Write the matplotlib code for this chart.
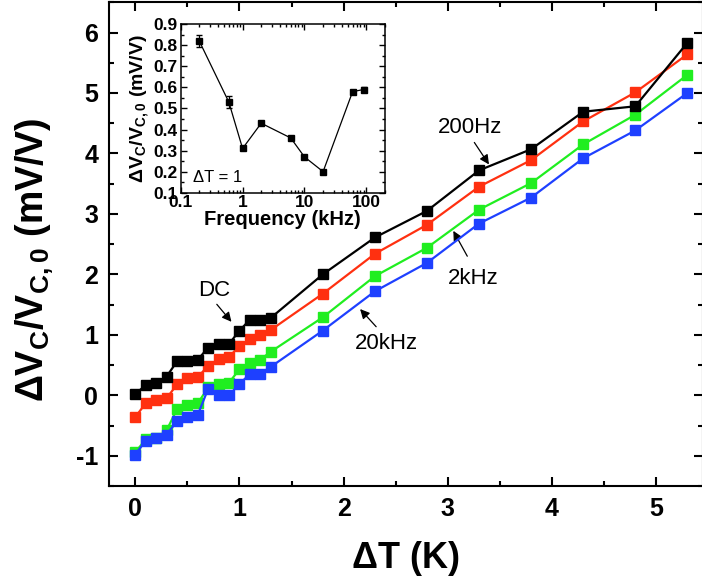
import matplotlib
matplotlib.use('Agg')
import matplotlib.pyplot as plt
from matplotlib.ticker import MultipleLocator, FixedLocator, NullFormatter, LogLocator

plt.rcParams['font.family'] = ['Liberation Sans', 'DejaVu Sans']
plt.rcParams['axes.unicode_minus'] = False

# main panel: response vs temperature step
dT = [0, 0.1, 0.2, 0.3, 0.4, 0.5, 0.6, 0.7, 0.8, 0.9, 1.0, 1.1, 1.2, 1.3,
      1.8, 2.3, 2.8, 3.3, 3.8, 4.3, 4.8, 5.3]
v_dc = [0.02, 0.17, 0.21, 0.31, 0.56, 0.56, 0.59, 0.79, 0.85, 0.85, 1.07, 1.25, 1.24, 1.28,
        2.0, 2.61, 3.05, 3.72, 4.07, 4.69, 4.78, 5.83]
v_200hz = [-0.36, -0.13, -0.08, -0.05, 0.18, 0.28, 0.30, 0.49, 0.60, 0.64, 0.81, 0.93, 0.99, 1.08,
           1.68, 2.34, 2.82, 3.45, 3.89, 4.53, 5.01, 5.64]
v_2khz = [-0.94, -0.73, -0.71, -0.58, -0.23, -0.16, -0.13, 0.13, 0.18, 0.21, 0.43, 0.54, 0.59, 0.72,
          1.29, 1.97, 2.44, 3.07, 3.51, 4.15, 4.64, 5.30]
v_20khz = [-0.98, -0.75, -0.71, -0.65, -0.43, -0.36, -0.32, 0.11, 0.0, 0.0, 0.19, 0.35, 0.36, 0.47,
           1.07, 1.72, 2.19, 2.84, 3.27, 3.92, 4.38, 5.0]

# inset: response at dT = 1 vs frequency
freq = [0.2, 0.6, 1, 2, 6, 10, 20, 60, 90]
resp = [0.82, 0.53, 0.31, 0.43, 0.36, 0.27, 0.20, 0.58, 0.59]
resp_err = [0.03, 0.03, 0, 0, 0, 0, 0, 0.01, 0.01]

fig = plt.figure(figsize=(7.02, 5.88), dpi=100)
ax = fig.add_axes([0.1557, 0.1735, 0.8457, 0.8226])

series = [(v_200hz, '#FF3010', 2), (v_2khz, '#20EE20', 3), (v_20khz, '#1E40FF', 4), (v_dc, 'black', 5)]
for vals, col, z in series:
    ax.plot(dT, vals, '-s', color=col, lw=1.6, ms=7, mec=col, zorder=z)

ax.set_xlim(-0.25, 5.45)
ax.set_ylim(-1.5, 6.5)
ax.xaxis.set_major_locator(MultipleLocator(1))
ax.xaxis.set_minor_locator(MultipleLocator(0.5))
ax.yaxis.set_major_locator(MultipleLocator(1))
ax.yaxis.set_minor_locator(MultipleLocator(0.5))
ax.tick_params(which='both', direction='in', top=True, right=True, width=1.5)
ax.tick_params(which='major', length=6.5, labelsize=18, pad=8)
ax.tick_params(which='minor', length=3.5)
for lab in ax.get_xticklabels() + ax.get_yticklabels():
    lab.set_fontweight('bold')
for sp in ax.spines.values():
    sp.set_linewidth(1.5)

ax.set_xlabel('ΔT (K)', fontsize=26, fontweight='bold', labelpad=14)
ax.set_ylabel(r'ΔV$_\mathregular{C}$/V$_\mathregular{C,0}$ (mV/V)', fontsize=27, fontweight='bold')
ax.yaxis.set_label_coords(-0.09, 0.467)

arr = dict(arrowstyle='-|>', color='black', lw=0.9, mutation_scale=14)
ax.annotate('', xy=(0.94, 1.18), xytext=(0.765, 1.54), arrowprops=arr)
ax.text(0.76, 1.74, 'DC', fontsize=16, ha='center', va='center')
ax.annotate('', xy=(3.41, 3.78), xytext=(3.24, 4.22), arrowprops=arr)
ax.text(3.21, 4.43, '200Hz', fontsize=16, ha='center', va='center')
ax.annotate('', xy=(3.04, 2.76), xytext=(3.20, 2.26), arrowprops=arr)
ax.text(3.245, 1.93, '2kHz', fontsize=16, ha='center', va='center')
ax.annotate('', xy=(2.14, 1.46), xytext=(2.33, 1.10), arrowprops=arr)
ax.text(2.41, 0.85, '20kHz', fontsize=16, ha='center', va='center')

# inset
ins = fig.add_axes([0.2574, 0.6723, 0.291, 0.2864])
ins.errorbar(freq, resp, yerr=resp_err, fmt='-s', color='black', lw=0.9, ms=5,
             elinewidth=0.9, capsize=2.5)
ins.set_xscale('log')
ins.set_xlim(0.1, 200)
ins.set_ylim(0.1, 0.9)
ins.xaxis.set_major_locator(FixedLocator([0.1, 1, 10, 100]))
ins.set_xticklabels(['0.1', '1', '10', '100'])
ins.xaxis.set_minor_locator(LogLocator(base=10, subs=range(2, 10)))
ins.xaxis.set_minor_formatter(NullFormatter())
ins.yaxis.set_major_locator(MultipleLocator(0.1))
ins.yaxis.set_minor_locator(MultipleLocator(0.05))
ins.tick_params(which='both', direction='in', top=True, right=True, width=1.0)
ins.tick_params(which='major', length=4, labelsize=12.5, pad=2)
ins.tick_params(which='minor', length=2)
for lab in ins.get_xticklabels() + ins.get_yticklabels():
    lab.set_fontweight('bold')
for sp in ins.spines.values():
    sp.set_linewidth(1.1)
ins.set_xlabel('Frequency (kHz)', fontsize=14.5, fontweight='bold', labelpad=0)
ins.set_ylabel(r'ΔV$_\mathregular{C}$/V$_\mathregular{C,0}$ (mV/V)', fontsize=14, fontweight='bold', labelpad=1)
ins.text(0.16, 0.17, 'ΔT = 1', fontsize=12, ha='left', va='center')

fig.savefig('out.png', dpi=100)
